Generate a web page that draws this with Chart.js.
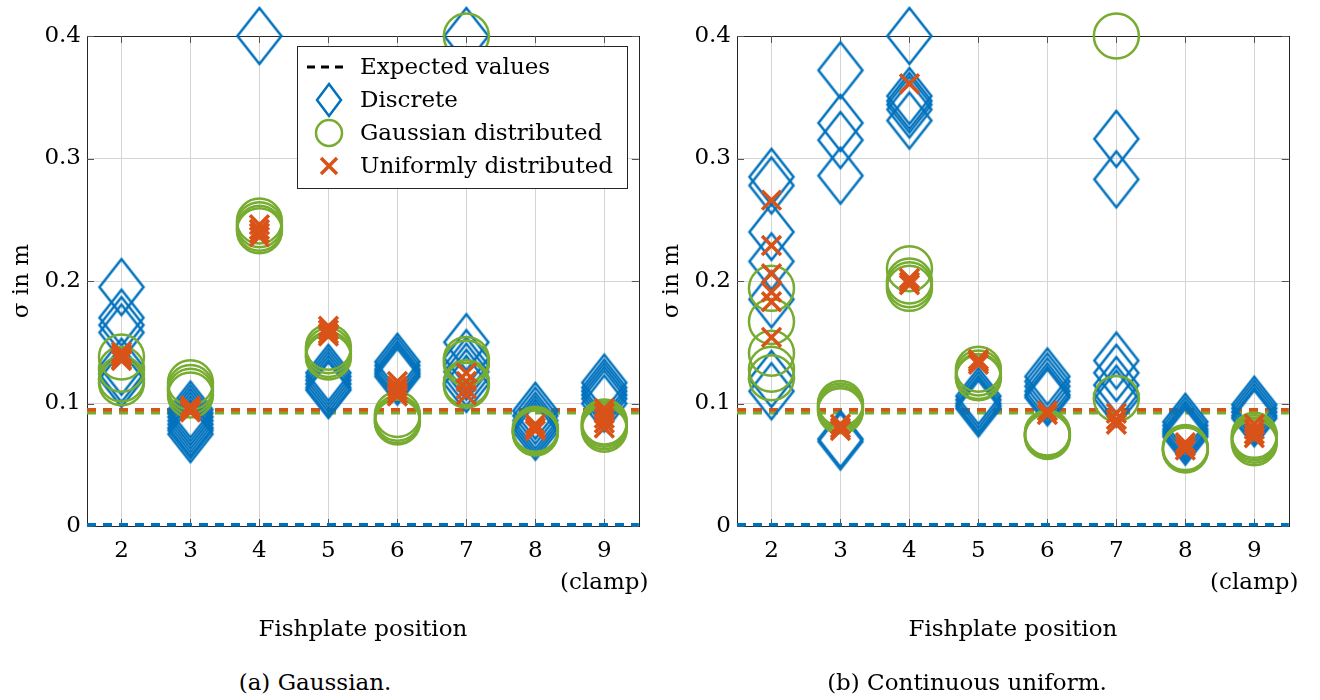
<!DOCTYPE html>
<html>
<head>
<meta charset="utf-8">
<title>Fishplate sigma estimates</title>
<script src="https://cdn.jsdelivr.net/npm/chart.js@4.4.1/dist/chart.umd.min.js"></script>
<style>
  html, body { margin: 0; padding: 0; background: #fff; }
  #page { position: relative; width: 1320px; height: 700px; overflow: hidden; }
  .panel { position: absolute; top: 0; width: 660px; height: 660px; }
  .caption { position: absolute; top: 669px; height: 28px; line-height: 28px; text-align: center;
             font: 23px "DejaVu Serif", serif; color: #000; }
</style>
</head>
<body>
<div id="page">
  <div class="panel" style="left:0"><canvas id="chartA" width="660" height="660"></canvas></div>
  <div class="panel" style="left:650px"><canvas id="chartB" width="660" height="660"></canvas></div>
  <div class="caption" style="left:0;width:630px">(a) Gaussian.</div>
  <div class="caption" style="left:650px;width:634px">(b) Continuous uniform.</div>
</div>
<script>
// Fishplate positions (x axis) and y ticks
const positions = [2, 3, 4, 5, 6, 7, 8, 9];
const yTicks = [0, 0.1, 0.2, 0.3, 0.4];
const legendLabels = ['Expected values', 'Discrete', 'Gaussian distributed', 'Uniformly distributed'];

// Expected sigma per estimator (dashed lines)
const expectedDiscrete = 0.001;
const expectedGauss = 0.0925;
const expectedUniform = 0.095;

// (a) Gaussian: one list of runs per fishplate position
const discreteA = [
    [0.195, 0.17, 0.164, 0.158, 0.13, 0.124, 0.12],
    [0.095, 0.092, 0.089, 0.086, 0.083, 0.08, 0.078, 0.075],
    [0.4],
    [0.125, 0.122, 0.119, 0.116, 0.113, 0.111],
    [0.134, 0.131, 0.128, 0.126, 0.124, 0.122],
    [0.4, 0.15, 0.137, 0.131, 0.126, 0.121, 0.116],
    [0.094, 0.09, 0.086, 0.083, 0.08, 0.077],
    [0.117, 0.113, 0.11, 0.107, 0.104, 0.1]
];
const gaussA = [
    [0.138, 0.128, 0.12, 0.117],
    [0.117, 0.113, 0.11, 0.107],
    [0.249, 0.246, 0.243, 0.241],
    [0.146, 0.143, 0.14, 0.138],
    [0.091, 0.088, 0.086, 0.085],
    [0.4, 0.136, 0.133, 0.117, 0.115],
    [0.079, 0.078, 0.077, 0.076],
    [0.085, 0.083, 0.081, 0.079]
];
const uniformA = [
    [0.142, 0.14, 0.138, 0.136, 0.135],
    [0.098, 0.096, 0.094, 0.093],
    [0.246, 0.242, 0.239, 0.236],
    [0.163, 0.16, 0.157, 0.155],
    [0.118, 0.114, 0.111, 0.108, 0.106],
    [0.125, 0.118, 0.112, 0.107],
    [0.083, 0.08, 0.078],
    [0.096, 0.092, 0.088, 0.084, 0.08]
];

// (b) Continuous uniform
const discreteB = [
    [0.285, 0.278, 0.24, 0.216, 0.185, 0.12, 0.11],
    [0.372, 0.329, 0.315, 0.286, 0.071, 0.069],
    [0.4, 0.351, 0.347, 0.344, 0.34, 0.331],
    [0.106, 0.103, 0.1, 0.098, 0.096],
    [0.122, 0.118, 0.114, 0.11, 0.107, 0.105],
    [0.316, 0.283, 0.135, 0.125, 0.115, 0.108, 0.104],
    [0.085, 0.082, 0.079, 0.077, 0.075, 0.073],
    [0.099, 0.096, 0.093, 0.09, 0.088]
];
const gaussB = [
    [0.194, 0.167, 0.141, 0.128, 0.121],
    [0.1, 0.098, 0.096, 0.094],
    [0.21, 0.2, 0.197, 0.194],
    [0.128, 0.125, 0.122, 0.121],
    [0.076, 0.075, 0.074, 0.073],
    [0.4, 0.104],
    [0.064, 0.063, 0.062],
    [0.074, 0.072, 0.07, 0.068]
];
const uniformB = [
    [0.266, 0.229, 0.206, 0.191, 0.183, 0.154],
    [0.083, 0.08, 0.078],
    [0.361, 0.202, 0.199, 0.197],
    [0.136, 0.134, 0.132],
    [0.094, 0.091],
    [0.092, 0.087, 0.083],
    [0.068, 0.065, 0.062],
    [0.083, 0.079, 0.075, 0.072]
];

const BLUE = '#0072BD';
const ORANGE = '#D95319';
const GREEN = '#77AC30';
const AXIS = '#262626';
const FONT = '"DejaVu Serif", serif';
const FONT_SIZE = 23;

Chart.defaults.font.family = FONT;
Chart.defaults.font.size = FONT_SIZE;
Chart.defaults.color = '#000';

// tall diamond marker (matlab style), used as an image point style
function makeDiamond() {
    const c = document.createElement('canvas');
    c.width = 50; c.height = 62;
    const g = c.getContext('2d');
    g.strokeStyle = BLUE;
    g.lineWidth = 2.5;
    g.beginPath();
    g.moveTo(25, 3); g.lineTo(47, 31); g.lineTo(25, 59); g.lineTo(3, 31);
    g.closePath();
    g.stroke();
    return c;
}
const diamondImg = makeDiamond();

function toPoints(runs) {
    const pts = [];
    runs.forEach((vals, i) => vals.forEach(v => pts.push({ x: positions[i], y: v })));
    return pts;
}

const X_MIN = 1.5, X_MAX = 9.5;

function expectedLine(value, color, order) {
    return {
        label: 'expected',
        data: [{ x: X_MIN, y: value }, { x: X_MAX, y: value }],
        showLine: true,
        borderColor: color,
        borderWidth: 3.5,
        borderDash: [9, 7],
        pointRadius: 0,
        order: order
    };
}

// box around the plot with small inward ticks
const frame = {
    id: 'frame',
    beforeDatasetsDraw(chart) {
        const { ctx, chartArea: a, scales } = chart;
        ctx.save();
        ctx.strokeStyle = AXIS;
        ctx.lineWidth = 1;
        ctx.strokeRect(Math.round(a.left) + 0.5, Math.round(a.top) + 0.5,
            Math.round(a.right - a.left), Math.round(a.bottom - a.top));
        ctx.strokeStyle = '#555';
        ctx.beginPath();
        positions.forEach(p => {
            const px = Math.round(scales.x.getPixelForValue(p)) + 0.5;
            ctx.moveTo(px, a.top); ctx.lineTo(px, a.top + 7);
            ctx.moveTo(px, a.bottom); ctx.lineTo(px, a.bottom - 7);
        });
        yTicks.forEach(t => {
            const py = Math.round(scales.y.getPixelForValue(t)) + 0.5;
            ctx.moveTo(a.left, py); ctx.lineTo(a.left + 7, py);
            ctx.moveTo(a.right, py); ctx.lineTo(a.right - 7, py);
        });
        ctx.stroke();
        ctx.restore();
    }
};

// legend box drawn inside the upper right corner
const legendBox = {
    id: 'legendBox',
    afterDatasetsDraw(chart, args, opts) {
        if (!opts.show) return;
        const { ctx, chartArea: a } = chart;
        ctx.save();
        ctx.font = FONT_SIZE + 'px ' + FONT;
        const textW = Math.max(...legendLabels.map(t => ctx.measureText(t).width));
        const rowH = 33, symW = 63;
        const w = Math.round(symW + textW + 14);
        const h = 21 + rowH * (legendLabels.length - 1) + 22;
        const x = Math.round(a.right - 12 - w);
        const y = Math.round(a.top + 10);
        ctx.fillStyle = '#fff';
        ctx.fillRect(x, y, w, h);
        ctx.strokeStyle = AXIS;
        ctx.lineWidth = 1;
        ctx.strokeRect(x + 0.5, y + 0.5, w, h);
        legendLabels.forEach((label, i) => {
            const cy = y + 21 + i * rowH;
            const cx = x + 32;
            ctx.beginPath();
            if (i === 0) {
                ctx.strokeStyle = '#000';
                ctx.lineWidth = 3;
                ctx.setLineDash([8, 6]);
                ctx.moveTo(cx - 22, cy); ctx.lineTo(cx + 20, cy);
                ctx.stroke();
                ctx.setLineDash([]);
            } else if (i === 1) {
                ctx.strokeStyle = BLUE;
                ctx.lineWidth = 2.5;
                ctx.moveTo(cx, cy - 16); ctx.lineTo(cx + 12, cy);
                ctx.lineTo(cx, cy + 16); ctx.lineTo(cx - 12, cy);
                ctx.closePath();
                ctx.stroke();
            } else if (i === 2) {
                ctx.strokeStyle = GREEN;
                ctx.lineWidth = 2.5;
                ctx.arc(cx, cy, 13, 0, Math.PI * 2);
                ctx.stroke();
            } else {
                ctx.strokeStyle = ORANGE;
                ctx.lineWidth = 3.5;
                ctx.moveTo(cx - 8, cy - 8); ctx.lineTo(cx + 8, cy + 8);
                ctx.moveTo(cx + 8, cy - 8); ctx.lineTo(cx - 8, cy + 8);
                ctx.stroke();
            }
            ctx.fillStyle = '#000';
            ctx.textBaseline = 'middle';
            ctx.textAlign = 'left';
            ctx.fillText(label, x + symW, cy + 1);
        });
        ctx.restore();
    }
};

function makeChart(canvasId, discrete, gauss, uniform, showLegend) {
    return new Chart(document.getElementById(canvasId), {
        type: 'scatter',
        data: {
            datasets: [
                {
                    label: 'Uniformly distributed',
                    data: toPoints(uniform),
                    pointStyle: 'crossRot',
                    pointRadius: 13.4,
                    pointBorderWidth: 3.5,
                    borderColor: ORANGE,
                    backgroundColor: ORANGE,
                    order: 0
                },
                {
                    label: 'Gaussian distributed',
                    data: toPoints(gauss),
                    pointStyle: 'circle',
                    pointRadius: 22.5,
                    pointBorderWidth: 2.5,
                    borderColor: GREEN,
                    backgroundColor: 'rgba(0,0,0,0)',
                    order: 1
                },
                {
                    label: 'Discrete',
                    data: toPoints(discrete),
                    pointStyle: diamondImg,
                    pointRadius: 28,
                    borderColor: BLUE,
                    backgroundColor: 'rgba(0,0,0,0)',
                    order: 2
                },
                expectedLine(expectedUniform, ORANGE, 3),
                expectedLine(expectedGauss, GREEN, 4),
                expectedLine(expectedDiscrete, BLUE, 5)
            ]
        },
        options: {
            responsive: false,
            animation: false,
            events: [],
            clip: false,
            // big markers would otherwise grow the padding and shrink the plot
            layout: { autoPadding: false, padding: { left: 0, top: 36, right: 21.2, bottom: 0 } },
            plugins: {
                legend: { display: false },
                tooltip: { enabled: false },
                legendBox: { show: showLegend }
            },
            scales: {
                x: {
                    type: 'linear',
                    min: X_MIN,
                    max: X_MAX,
                    afterBuildTicks: s => { s.ticks = positions.map(v => ({ value: v })); },
                    afterFit: s => { s.height = 134; s.paddingLeft = 0; s.paddingRight = 0; },
                    ticks: {
                        padding: 9,
                        maxRotation: 0,
                        autoSkip: false,
                        font: { size: FONT_SIZE, lineHeight: 1.4 },
                        callback: v => (v === 9 ? ['9', '(clamp)'] : String(v))
                    },
                    grid: { color: '#d4d4d4', lineWidth: 1, drawTicks: false },
                    border: { display: false },
                    title: {
                        display: true,
                        text: 'Fishplate position',
                        font: { size: FONT_SIZE, lineHeight: 1.2 },
                        padding: { top: 0, bottom: 16 }
                    }
                },
                y: {
                    min: 0,
                    max: 0.4,
                    afterBuildTicks: s => { s.ticks = yTicks.map(v => ({ value: v })); },
                    afterFit: s => { s.width = 87; s.paddingTop = 0; s.paddingBottom = 0; },
                    ticks: { padding: 6, font: { size: FONT_SIZE }, callback: v => String(v) },
                    grid: { color: '#d4d4d4', lineWidth: 1, drawTicks: false },
                    border: { display: false },
                    title: {
                        display: true,
                        text: 'σ in m',
                        font: { size: FONT_SIZE, lineHeight: 1.2 },
                        padding: { top: 8, bottom: 0 }
                    }
                }
            }
        },
        plugins: [frame, legendBox]
    });
}

makeChart('chartA', discreteA, gaussA, uniformA, true);
makeChart('chartB', discreteB, gaussB, uniformB, false);
</script>
</body>
</html>
